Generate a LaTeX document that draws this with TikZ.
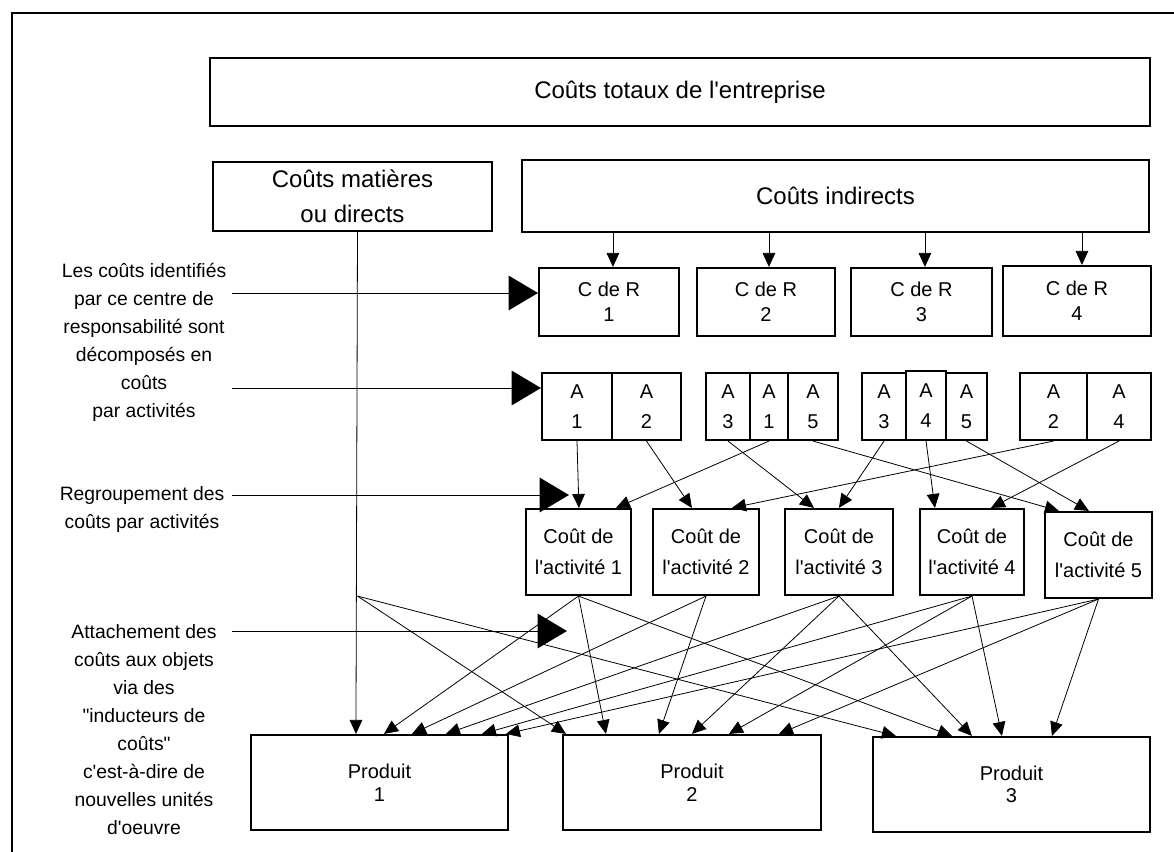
\documentclass[tikz,border=0pt]{standalone}
\usepackage{fontspec}
\newfontfamily\lib{Liberation Sans}
\usetikzlibrary{arrows.meta,calc}
\begin{document}
\begin{tikzpicture}[x=0.75pt,y=-0.75pt,
  box/.style={draw, line width=1.6pt, inner sep=0pt, align=center},
  bigtxt/.style={font=\lib\fontsize{18}{26}\selectfont},
  rtxt/.style={font=\lib\fontsize{15}{19}\selectfont},
  atxt/.style={font=\lib\fontsize{15}{22.5}\selectfont},
  ctxt/.style={font=\lib\fontsize{15}{23}\selectfont},
  ptxt/.style={font=\lib\fontsize{15}{17}\selectfont},
  lab/.style={align=center, inner sep=0pt, font=\lib\fontsize{14.5}{21}\selectfont},
  arr/.style={line width=0.6pt, -{Triangle[length=10.5pt,width=9.5pt]}},
  bigarr/.style={line width=0.6pt, -{Triangle[length=22pt,width=26pt]}}]
\useasboundingbox (0,0) rectangle (1174,852);
% outer frame
\draw[line width=1.5pt] (12,852) -- (12,13) -- (1174,13);

% top boxes
\node[box, bigtxt, minimum width=705pt, minimum height=51pt] (tot) at (680,92) {Coûts totaux de l'entreprise};
\node[box, bigtxt, minimum width=209.25pt, minimum height=51.75pt] (mat) at (352.5,196.5) {Coûts matières\\ou directs};
\node[box, bigtxt, minimum width=470.25pt, minimum height=54pt] (ind) at (835.5,196) {Coûts indirects};

% centres de responsabilite
\node[box, rtxt, minimum width=105pt, minimum height=51pt] (r1) at (609,302) {C de R\\1};
\node[box, rtxt, minimum width=103.5pt, minimum height=51pt] (r2) at (766,302) {C de R\\2};
\node[box, rtxt, minimum width=105.75pt, minimum height=51pt] (r3) at (921.5,302) {C de R\\3};
\node[box, rtxt, minimum width=111pt, minimum height=52.5pt] (r4) at (1077,301) {C de R\\4};

% activites par centre
\tikzset{acell/.style={box, atxt, minimum height=50.25pt}}
\node[acell, minimum width=52.5pt] (a11) at (577,406.5) {A\\1};
\node[acell, minimum width=51.75pt] (a12) at (646.5,406.5) {A\\2};
\node[acell, minimum width=33pt] (a23) at (728,406.5) {A\\3};
\node[acell, minimum width=28.5pt] (a21) at (769,406.5) {A\\1};
\node[acell, minimum width=37.5pt] (a25) at (813,406.5) {A\\5};
\node[acell, minimum width=33pt] (a33) at (884,406.5) {A\\3};
\node[acell, minimum width=30pt, minimum height=51.75pt] (a34) at (926,405.5) {A\\4};
\node[acell, minimum width=30.75pt] (a35) at (966.5,406.5) {A\\5};
\node[acell, minimum width=50.25pt] (a42) at (1053.5,406.5) {A\\2};
\node[acell, minimum width=48pt] (a44) at (1119,406.5) {A\\4};

% couts des activites
\tikzset{ccell/.style={box, ctxt, minimum height=64.5pt}}
\node[ccell, minimum width=78.75pt] (c1) at (578.5,552) {Coût de\\l'activité 1};
\node[ccell, minimum width=79.5pt] (c2) at (706,552) {Coût de\\l'activité 2};
\node[ccell, minimum width=81pt] (c3) at (839,552) {Coût de\\l'activité 3};
\node[ccell, minimum width=78pt] (c4) at (972,552) {Coût de\\l'activité 4};
\node[ccell, minimum width=80.25pt] (c5) at (1098.5,555) {Coût de\\l'activité 5};

% produits
\tikzset{pcell/.style={box, ptxt, minimum height=71.25pt}}
\node[pcell, minimum width=192.75pt] (p1) at (379.5,782.5) {Produit\\1};
\node[pcell, minimum width=193.5pt] (p2) at (692,782.5) {Produit\\2};
\node[pcell, minimum width=207.75pt] (p3) at (1011.5,784.5) {Produit\\3};

% left labels
\node[lab] (lab1) at (144,342) {Les coûts identifiés\\par ce centre de\\responsabilité sont\\décomposés en\\coûts\\par activités};
\node[lab] (lab2) at (142,509) {Regroupement des\\coûts par activités};
\node[lab] (lab3) at (144,730) {Attachement des\\coûts aux objets\\via des\\"inducteurs de\\coûts"\\c'est-à-dire de\\nouvelles unités\\d'oeuvre};

\coordinate (s1) at (232,293);
\coordinate (s2) at (232,388);
\coordinate (s3) at (232,495);
\coordinate (s4) at (232,631);
\draw[bigarr] (s1) -- (s1 -| r1.west);
\draw[bigarr] (s2) -- (s2 -| a11.west);
\draw[bigarr] (s3) -- ($(s3 -| c1.west)+(44,0)$);
\draw[bigarr] (s4) -- ($(s4 -| c1.west)+(42,0)$);

% indirects -> centres
\foreach \r/\d in {r1/75, r2/73, r3/75, r4/80}{
  \path ($(\r.north west)+(\d,0)$) coordinate (t\r);
  \draw[arr] (ind.south -| t\r) -- (t\r);
}

% activites -> couts
\draw[arr] (a11.south) -- ($(c1.north west)+(54,0)$);
\draw[arr] (a12.south) -- ($(c2.north west)+(40,0)$);
\draw[arr] (a23.south) -- ($(c3.north west)+(30,0)$);
\draw[arr] (a21.south) -- ($(c1.north west)+(91,0)$);
\draw[arr] (a25.south) -- ($(c5.north west)+(15,0)$);
\draw[arr] (a33.south) -- ($(c3.north west)+(55,0)$);
\draw[arr] (a34.south) -- ($(c4.north west)+(16,0)$);
\draw[arr] (a35.south) -- ($(c5.north west)+(45,0)$);
\draw[arr] (a42.south) -- ($(c2.north west)+(80,0)$);
\draw[arr] (a44.south) -- ($(c4.north west)+(72,0)$);

% couts directs -> produits
\coordinate (mx) at ($(mat.south)+(5,0)$);
\coordinate (mj) at (mx |- c1.south);
\draw[arr] (mx) -- ($(p1.north west)+(106,0)$);
\draw[arr] (mj) -- ($(p2.north west)+(4,0)$);
\draw[arr] (mj) -- ($(p3.north west)+(24,0)$);

% couts des activites -> produits
\draw[arr] (c1.south) -- ($(p1.north west)+(134,0)$);
\draw[arr] (c2.south) -- ($(p1.north west)+(162,0)$);
\draw[arr] (c3.south) -- ($(p1.north west)+(196,0)$);
\draw[arr] (c4.south) -- ($(p1.north west)+(232,0)$);
\draw[arr] (c5.south) -- ($(p1.north west)+(256,0)$);
\draw[arr] (c1.south) -- ($(p2.north west)+(44,0)$);
\draw[arr] (c2.south) -- ($(p2.north west)+(97,0)$);
\draw[arr] (c3.south) -- ($(p2.north west)+(130,0)$);
\draw[arr] (c4.south) -- ($(p2.north west)+(167,0)$);
\draw[arr] (c5.south) -- ($(p2.north west)+(217,0)$);
\draw[arr] (c1.south) -- ($(p3.north west)+(80,0)$);
\draw[arr] (c3.south) -- ($(p3.north west)+(100,0)$);
\draw[arr] (c4.south) -- ($(p3.north west)+(130,0)$);
\draw[arr] (c5.south) -- ($(p3.north west)+(180,0)$);
\end{tikzpicture}
\end{document}
